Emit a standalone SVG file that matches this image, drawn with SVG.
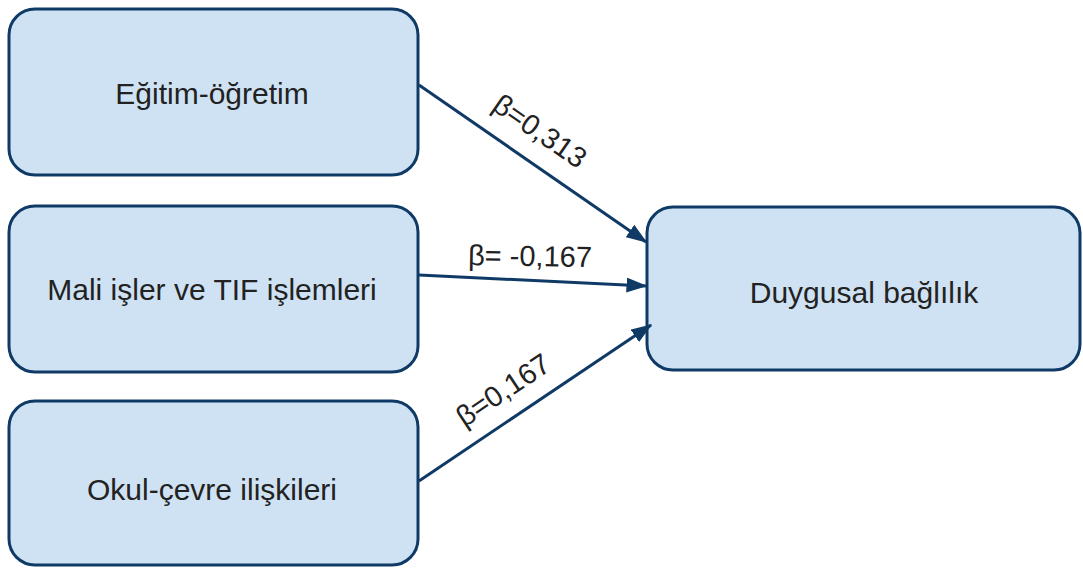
<svg xmlns="http://www.w3.org/2000/svg" width="1083" height="568" viewBox="0 0 1083 568">
<style>
.box{fill:#cfe2f3;stroke:#0f3a66;stroke-width:3}
.lbl{font-family:"Liberation Sans",Arial,sans-serif;font-size:30px;fill:#222222;text-anchor:middle;dominant-baseline:central}
.edge{stroke:#0f3a66;stroke-width:3;fill:none;marker-end:url(#ah)}
.el{font-family:"Liberation Sans",Arial,sans-serif;font-size:29px;fill:#222222;text-anchor:middle;dominant-baseline:central}
</style>
<defs>
<marker id="ah" markerWidth="7" markerHeight="5" refX="6.5" refY="2.5" orient="auto" markerUnits="strokeWidth">
<path d="M0,0 L7,2.5 L0,5 Z" fill="#0f3a66"/>
</marker>
</defs>
<rect width="1083" height="568" fill="#ffffff"/>
<g id="n1"><rect class="box" x="9" y="9" width="409" height="166" rx="26"/><text class="lbl" x="212" y="93">Eğitim-öğretim</text></g>
<g id="n2"><rect class="box" x="9" y="206" width="409" height="166" rx="26"/><text class="lbl" x="212" y="289">Mali işler ve TIF işlemleri</text></g>
<g id="n3"><rect class="box" x="9" y="401" width="409" height="164" rx="26"/><text class="lbl" x="212" y="489">Okul-çevre ilişkileri</text></g>
<g id="n4"><rect class="box" x="647" y="207" width="433" height="163" rx="26"/><text class="lbl" x="864" y="292">Duygusal bağlılık</text></g>
<g id="connectors">
<line class="edge" x1="419" y1="85" x2="646" y2="242"/>
<line class="edge" x1="419" y1="275" x2="646" y2="286"/>
<line class="edge" x1="419" y1="481" x2="651" y2="325"/>
<text class="el" transform="translate(540,131) rotate(34.7)">β=0,313</text>
<text class="el" transform="translate(530,256) rotate(1)">β= -0,167</text>
<text class="el" transform="translate(503,390) rotate(-33.7)">β=0,167</text>
</g>
</svg>
